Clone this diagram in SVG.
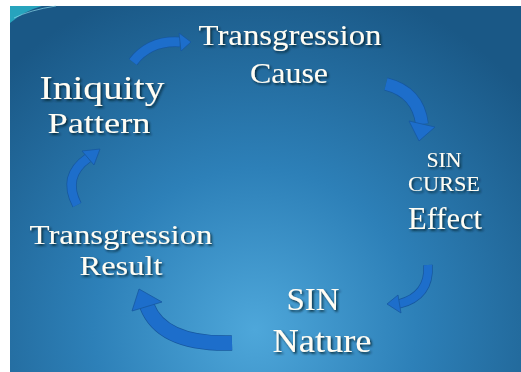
<svg xmlns="http://www.w3.org/2000/svg" width="521" height="372" viewBox="0 0 521 372">
  <defs>
    <radialGradient id="bg" gradientUnits="userSpaceOnUse" cx="255" cy="330" r="360">
      <stop offset="0" stop-color="#4ea7da"/>
      <stop offset="0.45" stop-color="#2d80b8"/>
      <stop offset="1" stop-color="#1a5886"/>
    </radialGradient>
    <filter id="sh" x="-10%" y="-20%" width="130%" height="150%">
      <feDropShadow dx="1.6" dy="1.8" stdDeviation="0.9" flood-color="#061a2a" flood-opacity="0.85"/>
    </filter>
  </defs>
  <style>
    .t { font-family: "Liberation Serif", "DejaVu Serif", serif; fill: #fffdf4; text-anchor: middle; filter: url(#sh); }
    .band { fill: none; stroke: #1d6ecb; stroke-linecap: butt; }
    .edge { fill: none; stroke: #17589f; stroke-linecap: butt; }
    .head { fill: #1d6ecb; stroke: #17589f; stroke-width: 0.8; stroke-linejoin: round; }
  </style>

  <rect x="0" y="0" width="521" height="372" fill="#ffffff"/>
  <rect x="10" y="6" width="511" height="366" fill="url(#bg)"/>
  <path d="M10 6 L42 6 Q24 11 10 23 Z" fill="#27a4bd"/>
  <path d="M14 18 Q30 10 56 6" fill="none" stroke="#8ad6e6" stroke-width="1" opacity="0.7"/>

  <g id="connectors">
    <g id="arrow-iniquity-cause">
      <path class="edge" d="M133 62 Q150 40 180 42" stroke-width="10.5"/>
      <path class="band" d="M133 62 Q150 40 180 42" stroke-width="9"/>
      <polygon class="head" points="179,33 181,51 191,42"/>
    </g>
    <g id="arrow-cause-effect">
      <path class="edge" d="M386 84 Q418 92 422 124" stroke-width="13.5"/>
      <path class="band" d="M386 84 Q418 92 422 124" stroke-width="12"/>
      <polygon class="head" points="409,121 435,127 419,141"/>
    </g>
    <g id="arrow-effect-nature">
      <path class="edge" d="M428 265 Q430 296 399 304" stroke-width="9.5"/>
      <path class="band" d="M428 265 Q430 296 399 304" stroke-width="8"/>
      <polygon class="head" points="398,295 401,313 387,304"/>
    </g>
    <g id="arrow-nature-result">
      <path class="edge" d="M147 306 Q162 345 232 343" stroke-width="15.5"/>
      <path class="band" d="M147 306 Q162 345 232 343" stroke-width="14"/>
      <polygon class="head" points="132,311 162,302 139,289"/>
    </g>
    <g id="arrow-result-iniquity">
      <path class="edge" d="M77 205 Q62 176 88 158" stroke-width="10"/>
      <path class="band" d="M77 205 Q62 176 88 158" stroke-width="8.5"/>
      <polygon class="head" points="82,151 94,165 100,149"/>
    </g>
  </g>

  <g id="node-transgression-cause">
    <text class="t" x="290" y="45" font-size="30" textLength="183" lengthAdjust="spacingAndGlyphs">Transgression</text>
    <text class="t" x="289" y="83" font-size="30" textLength="78" lengthAdjust="spacingAndGlyphs">Cause</text>
  </g>
  <g id="node-sin-curse-effect">
    <text class="t" x="444" y="167" font-size="20" textLength="35" lengthAdjust="spacingAndGlyphs">SIN</text>
    <text class="t" x="444" y="191" font-size="21" textLength="72" lengthAdjust="spacingAndGlyphs">CURSE</text>
    <text class="t" x="445" y="229" font-size="31" textLength="74" lengthAdjust="spacingAndGlyphs">Effect</text>
  </g>
  <g id="node-sin-nature">
    <text class="t" x="313" y="310" font-size="32" textLength="53" lengthAdjust="spacingAndGlyphs">SIN</text>
    <text class="t" x="322" y="352" font-size="33" textLength="99" lengthAdjust="spacingAndGlyphs">Nature</text>
  </g>
  <g id="node-transgression-result">
    <text class="t" x="121" y="244" font-size="28" textLength="183" lengthAdjust="spacingAndGlyphs">Transgression</text>
    <text class="t" x="121" y="275" font-size="28" textLength="83" lengthAdjust="spacingAndGlyphs">Result</text>
  </g>
  <g id="node-iniquity-pattern">
    <text class="t" x="102" y="99" font-size="33" textLength="125" lengthAdjust="spacingAndGlyphs">Iniquity</text>
    <text class="t" x="99" y="133" font-size="30" textLength="103" lengthAdjust="spacingAndGlyphs">Pattern</text>
  </g>
</svg>
